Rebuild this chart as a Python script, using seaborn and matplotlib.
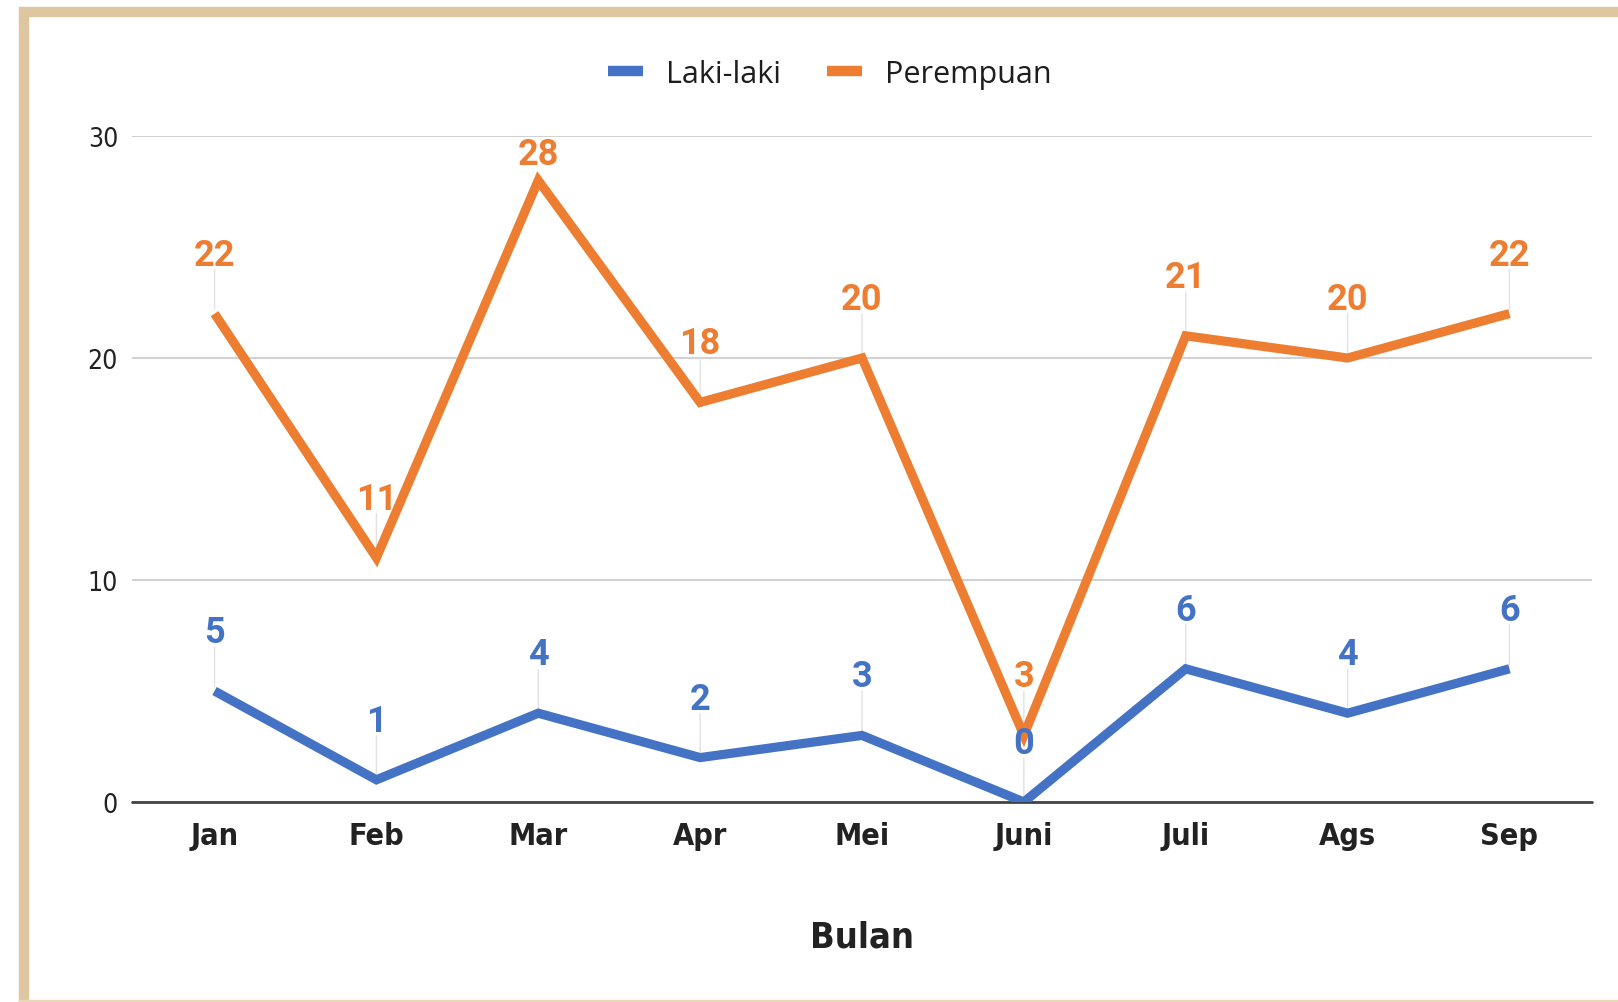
import matplotlib
matplotlib.use("Agg")
import matplotlib.pyplot as plt
import matplotlib.font_manager as fm
from matplotlib.patches import Rectangle
from matplotlib.lines import Line2D
import seaborn as sns
import pandas as pd

# ---- data ----
months = ["Jan", "Feb", "Mar", "Apr", "Mei", "Juni", "Juli", "Ags", "Sep"]
laki_laki = [5, 1, 4, 2, 3, 0, 6, 4, 6]
perempuan = [22, 11, 28, 18, 20, 3, 21, 20, 22]
series_names = ["Laki-laki", "Perempuan"]
y_ticks = [0, 10, 20, 30]
x_label = "Bulan"

colors = {"Laki-laki": "#4472C4", "Perempuan": "#ED7D31"}

df = pd.DataFrame({
    "Bulan": months * 2,
    "pos": list(range(len(months))) * 2,
    "Jumlah": laki_laki + perempuan,
    "Seri": [series_names[0]] * len(months) + [series_names[1]] * len(months),
})

sns.set_theme(style="white")
plt.rcParams["font.family"] = ["DejaVu Sans"]


def find_condensed(bold):
    for f in fm.fontManager.ttflist:
        st = str(f.stretch).lower()
        is_cond = "condensed" in st or "narrow" in f.name.lower()
        if not is_cond or f.style != "normal":
            continue
        w = f.weight
        is_bold = w in ("bold", 700)
        is_reg = w in ("normal", "regular", 400, "book")
        if (bold and is_bold) or ((not bold) and is_reg):
            return f.fname
    return None


cond_bold = find_condensed(True)
cond_reg = find_condensed(False)


def bold_prop(size):
    if cond_bold:
        return fm.FontProperties(fname=cond_bold, size=size)
    return fm.FontProperties(family="Roboto", weight="bold", size=size)


def reg_prop(size):
    if cond_reg:
        return fm.FontProperties(fname=cond_reg, size=size)
    return fm.FontProperties(family="Roboto", size=size)


fig = plt.figure(figsize=(16.18, 10.03), dpi=100)
fig.patch.set_facecolor("white")
W, H = 1618, 1003
ax = fig.add_axes([132 / W, 1 - 803 / H, (1592 - 132) / W, (803 - 137) / H])

sns.lineplot(data=df, x="pos", y="Jumlah", hue="Seri", palette=colors,
             hue_order=series_names, ax=ax, linewidth=6.6, legend=False,
             zorder=3)
for ln in ax.get_lines():
    ln.set_solid_capstyle("butt")
    ln.set_solid_joinstyle("miter")

ax.set_xlim(-0.51, len(months) - 0.49)
ax.set_ylim(0, 30)
ax.set_yticks(y_ticks)
ax.set_yticklabels([str(t) for t in y_ticks], color="#222222")
for t in ax.get_yticklabels():
    t.set_fontproperties(reg_prop(19))
ax.set_xticks(range(len(months)))
ax.set_xticklabels(months, color="#222222")
for t in ax.get_xticklabels():
    t.set_fontproperties(bold_prop(22))
ax.tick_params(axis="y", length=0, pad=10)
ax.tick_params(axis="x", length=0, pad=14)
for s in ax.spines.values():
    s.set_visible(False)
ax.grid(axis="y", color="#d2d2d2", linewidth=1.5, zorder=0)
ax.grid(axis="x", visible=False)
ax.axhline(0, color="#444444", linewidth=2.0, zorder=2.5, clip_on=False)
ax.set_xlabel(x_label, color="#222222", labelpad=50)
ax.xaxis.label.set_fontproperties(bold_prop(26))
ax.set_ylabel("")

# data labels with leader lines (labels kept inside the plot area)
px_per_unit = (803 - 137) / 30.0
pt_per_px = 72.0 / 100.0
ymax = ax.get_ylim()[1]
for name, vals in zip(series_names, [laki_laki, perempuan]):
    for i, v in enumerate(vals):
        off_px = min(49.0, (ymax - v) * px_per_unit - 28.0)
        if off_px > 20:
            ax.annotate("", xy=(i, v), xycoords="data",
                        xytext=(0, (off_px - 5) * pt_per_px),
                        textcoords="offset points",
                        arrowprops=dict(arrowstyle="-", color="#e2e2e2", lw=1.0,
                                        shrinkA=0, shrinkB=3, patchA=None),
                        zorder=1.5, annotation_clip=False)
        ax.annotate(str(v), xy=(i, v), xycoords="data",
                    xytext=(0, off_px * pt_per_px),
                    textcoords="offset points", ha="center", va="baseline",
                    fontsize=26, fontweight="bold", color=colors[name],
                    family=["Roboto", "DejaVu Sans"], zorder=6,
                    annotation_clip=False)

# legend
handles = [Line2D([], [], color=colors[n], linewidth=7.5, solid_capstyle="butt")
           for n in series_names]
fig.legend(handles, series_names, loc="center", bbox_to_anchor=(0.513, 1 - 75 / H),
           ncol=2, frameon=False, handlelength=1.15, handletextpad=0.75,
           columnspacing=1.5,
           prop=fm.FontProperties(family=["Open Sans", "DejaVu Sans"], size=22),
           labelcolor="#1e1e1e")

# beige frame
beige = "#DEC6A0"
fig.patches.append(Rectangle((19 / W, 1 - 17 / H), 1 - 19 / W, 9 / H,
                             transform=fig.transFigure, color=beige, zorder=0))
fig.patches.append(Rectangle((19 / W, 0), 9 / W, 1 - 17 / H,
                             transform=fig.transFigure, color=beige, zorder=0))
fig.patches.append(Rectangle((19 / W, 0), 1 - 19 / W, 2 / H,
                             transform=fig.transFigure, color="#EAD7B8", zorder=0))

fig.savefig("out.png", dpi=100, facecolor="white")
